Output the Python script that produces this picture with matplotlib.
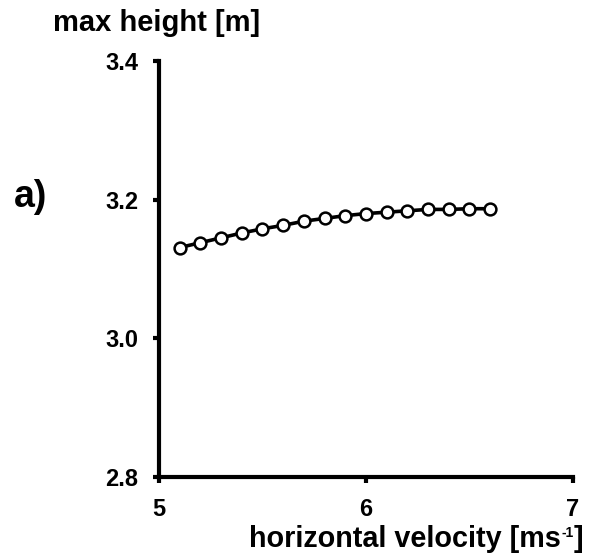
import matplotlib
matplotlib.use('Agg')
import matplotlib.pyplot as plt

# horizontal velocity [m/s] and max height [m]
velocity = [5.1, 5.2, 5.3, 5.4, 5.5, 5.6, 5.7, 5.8, 5.9, 6.0, 6.1, 6.2, 6.3, 6.4, 6.5, 6.6]
max_height = [3.131, 3.138, 3.145, 3.152, 3.158, 3.163, 3.169, 3.173, 3.177, 3.180,
              3.182, 3.184, 3.186, 3.186, 3.187, 3.187]

x_ticks = [5, 6, 7]
y_ticks = [2.8, 3.0, 3.2, 3.4]

plt.rcParams['font.family'] = ['Liberation Sans', 'DejaVu Sans']
plt.rcParams['font.weight'] = 'bold'

fig = plt.figure(figsize=(6.03, 5.55), dpi=100)
ax = fig.add_axes([0.2637, 0.1405, 0.6863, 0.7495])

ax.plot(velocity, max_height, color='black', lw=2.6, marker='o', ms=8.5,
        mfc='white', mec='black', mew=1.8, clip_on=False)

ax.set_xlim(5, 7)
ax.set_ylim(2.8, 3.4)
ax.set_xticks(x_ticks)
ax.set_xticklabels([str(t) for t in x_ticks])
ax.set_yticks(y_ticks)
ax.set_yticklabels(['%.1f' % t for t in y_ticks])

for s in ['top', 'right']:
    ax.spines[s].set_visible(False)
for s in ['left', 'bottom']:
    ax.spines[s].set_linewidth(3)
ax.tick_params(direction='out', length=4, width=3, labelsize=17, pad=11)
for lab in ax.get_xticklabels() + ax.get_yticklabels():
    lab.set_fontweight('bold')

fig.text(0.26, 0.958, 'max height [m]', ha='center', va='center',
         fontsize=21, fontweight='bold')
fig.text(0.05, 0.645, 'a)', ha='center', va='center', fontsize=27, fontweight='bold')

# x label with a small superscript, built from pieces
renderer = fig.canvas.get_renderer()
t_main = fig.text(0, 0.0144, 'horizontal velocity [ms', ha='left', va='baseline',
                  fontsize=20.7, fontweight='bold')
t_sup = fig.text(0, 0.032, '-1', ha='left', va='baseline', fontsize=10, fontweight='bold')
t_end = fig.text(0, 0.0144, ']', ha='left', va='baseline', fontsize=20.7, fontweight='bold')
w_main = t_main.get_window_extent(renderer).width
w_sup = t_sup.get_window_extent(renderer).width
w_end = t_end.get_window_extent(renderer).width
right = 583
x0 = right - w_end - w_sup - w_main
t_main.set_x(x0 / fig.bbox.width)
t_sup.set_x((x0 + w_main) / fig.bbox.width)
t_end.set_x((x0 + w_main + w_sup) / fig.bbox.width)

plt.savefig('out.png', dpi=100)
